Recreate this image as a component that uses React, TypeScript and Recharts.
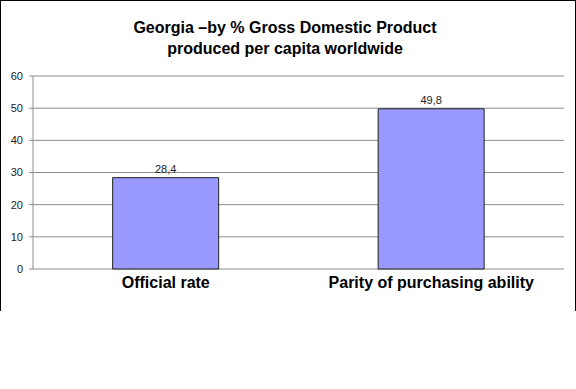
import { BarChart, Bar, XAxis, YAxis, CartesianGrid, LabelList } from 'recharts';

const categories = ['Official rate', 'Parity of purchasing ability'];
const values = [28.4, 49.8];
const yTicks = [0, 10, 20, 30, 40, 50, 60];
const edgeTicks = [0, 1, 2];

const chartData = categories.map((name, i) => ({ name, value: values[i] }));

const font = '"Liberation Sans", Arial, sans-serif';

export default function App() {
  return (
    <div style={{ position: 'absolute', left: 0, top: 0, width: 576, height: 389, background: '#fff', fontFamily: font }}>
      <div
        style={{
          position: 'absolute',
          left: 0,
          top: 0,
          width: 574,
          height: 310,
          borderLeft: '1px solid #000',
          borderTop: '1px solid #000',
          borderRight: '1px solid #000',
        }}
      />
      <div
        style={{
          position: 'absolute',
          left: 0,
          top: 17,
          width: 570,
          textAlign: 'center',
          fontWeight: 'bold',
          fontSize: 16,
          lineHeight: '21px',
          color: '#000',
        }}
      >
        Georgia –by % Gross Domestic Product
        <br />
        produced per capita worldwide
      </div>
      <div style={{ position: 'absolute', left: 0, top: 0 }}>
        <BarChart
          width={576}
          height={310}
          data={chartData}
          margin={{ top: 76, right: 12, bottom: 0, left: 0 }}
          barCategoryGap="30%"
        >
          <CartesianGrid vertical={false} stroke="#8c8c8c" />
          <XAxis
            xAxisId="edges"
            type="number"
            domain={[0, 2]}
            ticks={edgeTicks}
            tick={() => <g />}
            tickSize={5}
            height={0}
            stroke="#8c8c8c"
            allowDataOverflow
          />
          <XAxis
            xAxisId="cat"
            dataKey="name"
            axisLine={false}
            tickLine={false}
            tickSize={0}
            tickMargin={8}
            height={41}
            interval={0}
            tick={{ fontSize: 16, fontWeight: 'bold', fill: '#000', fontFamily: font }}
          />
          <YAxis
            domain={[0, 60]}
            ticks={yTicks}
            width={33}
            tickSize={4}
            tickMargin={6}
            stroke="#8c8c8c"
            tick={{ fontSize: 11, fill: '#222', fontFamily: font }}
          />
          <Bar xAxisId="cat" dataKey="value" fill="#9999FF" stroke="#222" strokeWidth={1} isAnimationActive={false}>
            <LabelList
              dataKey="value"
              position="top"
              formatter={(v: any) => String(v).replace('.', ',')}
              style={{ fontSize: 11, fill: '#222', fontFamily: font }}
            />
          </Bar>
        </BarChart>
      </div>
    </div>
  );
}
